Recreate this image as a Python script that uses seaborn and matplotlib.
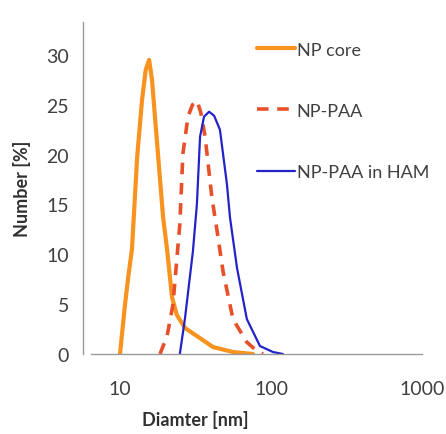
import numpy as np
import pandas as pd
import matplotlib
matplotlib.use('Agg')
import matplotlib.pyplot as plt
import seaborn as sns
from matplotlib.ticker import LogLocator, FixedLocator, NullFormatter

# size distributions (diameter nm, number %)
core_d = [10.0, 10.8, 11.4, 12.0, 13.0, 14.0, 14.8, 15.6, 16.3, 17.0, 17.9, 19.3, 20.5, 22.1, 23.8, 27.0, 32.3, 41.3, 56.0, 76.0]
core_n = [0.0, 5.0, 8.0, 10.5, 19.8, 25.5, 28.5, 29.5, 27.5, 24.0, 19.8, 13.7, 10.5, 5.7, 3.9, 2.6, 1.8, 0.7, 0.2, 0.0]

paa_d = [18.4, 20.5, 22.4, 24.9, 26.1, 28.2, 30.2, 32.4, 34.3, 36.6, 40.6, 43.9, 48.1, 56.0, 69.0, 80.7, 88.5]
paa_n = [0.0, 1.8, 4.9, 13.0, 20.1, 23.8, 25.0, 25.4, 24.2, 21.8, 15.7, 12.4, 8.3, 3.5, 1.2, 0.3, 0.0]

ham_d = [24.9, 26.9, 30.4, 32.3, 33.9, 36.0, 38.9, 42.0, 45.9, 51.1, 53.5, 59.6, 69.2, 84.5, 103.0, 120.0]
ham_n = [0.0, 3.5, 10.3, 15.0, 21.8, 23.8, 24.3, 23.9, 22.5, 17.0, 13.7, 8.6, 3.5, 0.8, 0.2, 0.0]

labels = ['NP core', 'NP-PAA', 'NP-PAA in HAM']
colors = ['#F7931E', '#E8502A', '#2323C8']

sns.set_style('white')
plt.rcParams['font.family'] = ['Lato', 'DejaVu Sans']

fig = plt.figure(figsize=(4.46, 4.35), dpi=100)
ax = fig.add_axes([83 / 446, 1 - 355 / 435, (422 - 83) / 446, (355 - 23) / 435])

sns.lineplot(x=core_d, y=core_n, ax=ax, color=colors[0], lw=3.0, label=labels[0])
sns.lineplot(x=paa_d, y=paa_n, ax=ax, color=colors[1], lw=2.6, label=labels[1])
ax.lines[-1].set_dashes([3.2, 2.4])
sns.lineplot(x=ham_d, y=ham_n, ax=ax, color=colors[2], lw=1.6, label=labels[2])

ax.set_xscale('log')
ax.set_xlim(10 ** 0.755, 1000)
ax.set_ylim(0, 33.3)
ax.set_yticks([0, 5, 10, 15, 20, 25, 30])
ax.xaxis.set_major_locator(FixedLocator([10, 100, 1000]))
ax.xaxis.set_minor_locator(LogLocator(base=10, subs=np.arange(2, 10)))
ax.xaxis.set_minor_formatter(NullFormatter())
ax.set_xticklabels(['10', '100', '1000'])

for s in ['top', 'right']:
    ax.spines[s].set_visible(False)
for s in ['left', 'bottom']:
    ax.spines[s].set_color('#999999')
    ax.spines[s].set_linewidth(1.0)
ax.spines['bottom'].set_bounds(10 ** (1 - 29 / 151), 1000)

ax.tick_params(axis='y', which='major', direction='out', length=4, width=1,
               color='#999999', labelsize=14, labelcolor='#404040', pad=6)
ax.tick_params(axis='x', which='major', direction='inout', length=8, width=1,
               color='#999999', labelsize=14, labelcolor='#404040', pad=15)
ax.tick_params(axis='x', which='minor', direction='inout', length=7, width=1,
               color='#999999')

ax.set_xlabel('Diamter [nm]', fontsize=13, fontweight='bold', color='#303030')
ax.xaxis.set_label_coords(0.33, -0.17)
ax.set_ylabel('Number [%]', fontsize=13, fontweight='bold', color='#303030', labelpad=11)

leg = ax.legend(loc='upper left', bbox_to_anchor=(0.465, 0.99), frameon=False,
                fontsize=13, handlelength=2.1, handletextpad=0.1, labelspacing=2.5,
                labelcolor='#404040')

fig.savefig('out.png', dpi=100)
